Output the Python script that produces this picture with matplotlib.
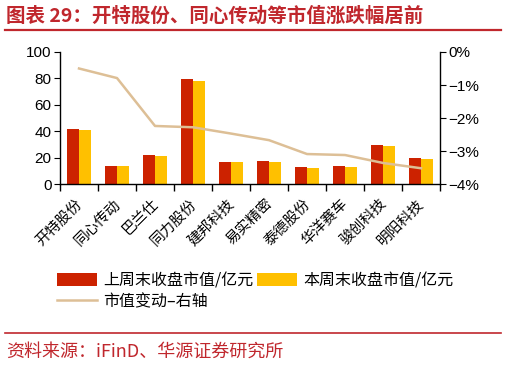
import numpy as np
import matplotlib
matplotlib.use("Agg")
import matplotlib.pyplot as plt
import matplotlib.transforms as mtransforms
from matplotlib.ticker import FuncFormatter, FixedLocator
from matplotlib.lines import Line2D

plt.rcParams['font.family'] = ['Noto Sans CJK SC', 'DejaVu Sans']

companies = ["开特股份", "同心传动", "巴兰仕", "同力股份", "建邦科技",
             "易实精密", "泰德股份", "华洋赛车", "骏创科技", "明阳科技"]
last_week = [41.4, 14.0, 22.1, 79.2, 17.0, 17.8, 12.7, 13.5, 29.9, 20.0]
this_week = [40.9, 13.5, 21.3, 77.9, 16.5, 16.8, 12.2, 13.2, 28.7, 19.3]
change_pct = [-0.50, -0.79, -2.24, -2.28, -2.47, -2.67, -3.09, -3.12, -3.36, -3.52]

RED = "#CC2200"
YELLOW = "#FFC000"
TAN = "#DDBF96"
TITLE_RED = "#C0272D"

fig = plt.figure(figsize=(5.06, 3.66), dpi=100)
ax = fig.add_axes([0.1186, 0.497, 0.751, 0.361])

x = np.arange(len(companies))
w = 0.32
ax.bar(x - w / 2, last_week, width=w, color=RED, label="上周末收盘市值/亿元")
ax.bar(x + w / 2, this_week, width=w, color=YELLOW, label="本周末收盘市值/亿元")
ax.set_xlim(-0.5, len(companies) - 0.5)
ax.set_ylim(0, 100)
ax.set_yticks([0, 20, 40, 60, 80, 100])
ax.tick_params(axis='y', labelsize=11, length=4, direction='out', pad=2)
for t in ax.get_yticklabels():
    t.set_family(['Liberation Sans', 'DejaVu Sans'])

# ticks at category boundaries, labels at centers
ax.xaxis.set_major_locator(FixedLocator(np.arange(-0.5, len(companies), 1.0)))
ax.set_xticklabels([])
ax.xaxis.set_minor_locator(FixedLocator(x))
ax.set_xticklabels(companies, minor=True, rotation=45, ha='right',
                   rotation_mode='anchor', fontsize=10.5)
ax.tick_params(axis='x', which='major', length=5, direction='out', width=1)
ax.tick_params(axis='x', which='minor', length=0, pad=9)
shift = mtransforms.ScaledTranslation(-4 / 100, 0, fig.dpi_scale_trans)
for t in ax.get_xticklabels(minor=True):
    t.set_transform(t.get_transform() + shift)

for s in ['top', 'right']:
    ax.spines[s].set_visible(False)
ax.spines['left'].set_linewidth(1)
ax.spines['bottom'].set_linewidth(1)

ax2 = ax.twinx()
ax2.plot(x, change_pct, color=TAN, lw=1.8, label="市值变动–右轴")
ax2.set_ylim(-4, 0)
ax2.set_yticks([-4, -3, -2, -1, 0])
ax2.yaxis.set_major_formatter(FuncFormatter(lambda v, p: f"{v:.0f}%".replace("-", "\u2212")))
ax2.tick_params(axis='y', labelsize=11, length=4, direction='out', pad=2)
for t in ax2.get_yticklabels():
    t.set_family(['Liberation Sans', 'DejaVu Sans'])
for s in ['top', 'left', 'bottom']:
    ax2.spines[s].set_visible(False)
ax2.spines['right'].set_linewidth(1)

h1, l1 = ax.get_legend_handles_labels()
h2, l2 = ax2.get_legend_handles_labels()
# column-major fill: red, line | yellow
handles = [h1[0], h2[0], h1[1]]
labels = [l1[0], l2[0], l1[1]]
fig.legend(handles, labels, loc='upper left', bbox_to_anchor=(0.10, 0.274),
           ncol=2, frameon=False, fontsize=11.5, handlelength=2.5, handleheight=0.9,
           columnspacing=0.2, handletextpad=0.4, labelspacing=0.25, borderaxespad=0)

fig.text(0.012, 0.955, "图表 29：开特股份、同心传动等市值涨跌幅居前", color=TITLE_RED,
         fontsize=14, fontweight='bold', va='center', ha='left')
fig.add_artist(Line2D([0.01, 0.99], [0.918, 0.918], color=TITLE_RED, lw=1.6))
fig.add_artist(Line2D([0.01, 0.99], [0.09, 0.09], color=TITLE_RED, lw=1.2))
fig.text(0.012, 0.038, "资料来源：iFinD、华源证券研究所", color=TITLE_RED,
         fontsize=13, va='center', ha='left')

fig.savefig("out.png", dpi=100)
